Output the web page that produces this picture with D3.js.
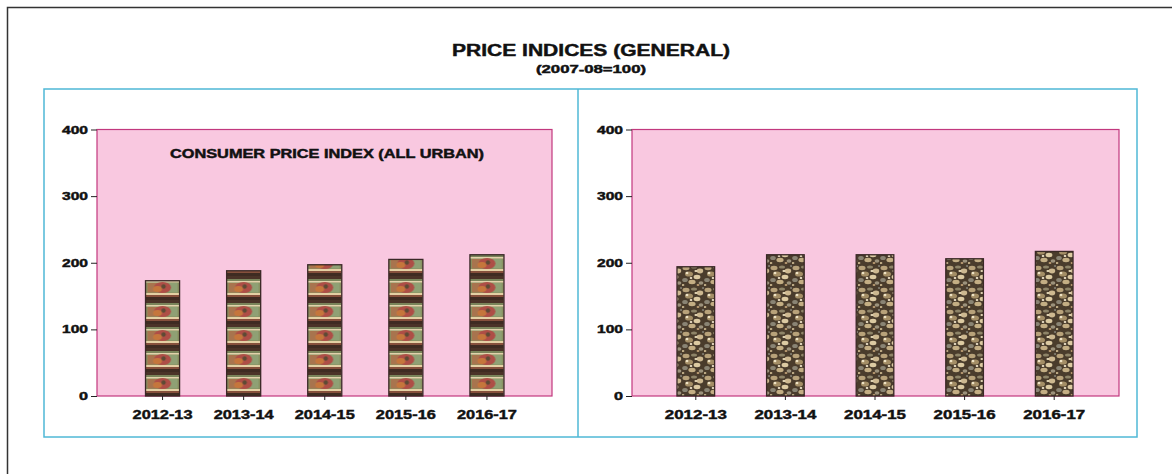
<!DOCTYPE html>
<html>
<head>
<meta charset="utf-8">
<script src="https://cdn.jsdelivr.net/npm/d3@7"></script>
<style>
  body { margin: 0; background: #fff; }
  text { font-family: "Liberation Sans", Arial, sans-serif; font-weight: bold; fill: #111;
         stroke: #111; stroke-width: 0.45px; }
</style>
</head>
<body>
<svg id="chart"></svg>
<script>
var width = 1172;
var height = 474;

// data
var years = ["2012-13", "2013-14", "2014-15", "2015-16", "2016-17"];
var cpiUrban = [173, 188, 197, 205, 212];
var rightIndex = [194, 212, 212, 206, 217];
var yTicks = [0, 100, 200, 300, 400];

var svg = d3.select('#chart')
    .attr('width', width)
    .attr('height', height);

var defs = svg.append('defs');

// outer frame (only top and left edges show)
svg.append('path')
    .attr('d', 'M7.5,' + height + 'V7.5H' + width)
    .attr('fill', 'none')
    .attr('stroke', '#333')
    .attr('stroke-width', 1.5);

svg.append('text')
    .attr('x', 591).attr('y', 56)
    .attr('text-anchor', 'middle')
    .attr('font-size', 16)
    .attr('textLength', 278).attr('lengthAdjust', 'spacingAndGlyphs')
    .text('PRICE INDICES (GENERAL)');

svg.append('text')
    .attr('x', 591).attr('y', 73)
    .attr('text-anchor', 'middle')
    .attr('font-size', 11)
    .attr('textLength', 110).attr('lengthAdjust', 'spacingAndGlyphs')
    .text('(2007-08=100)');

// panel boxes
svg.append('rect')
    .attr('x', 44).attr('y', 89)
    .attr('width', 1137 - 44).attr('height', 437 - 89)
    .attr('fill', 'none').attr('stroke', '#4FB8D6').attr('stroke-width', 1.5);
svg.append('line')
    .attr('x1', 578).attr('x2', 578).attr('y1', 89).attr('y2', 437)
    .attr('stroke', '#4FB8D6').attr('stroke-width', 1.5);

var yScale = d3.scaleLinear()
    .domain([0, 400])
    .range([396, 129.5]);

// tile pattern for the left bars
function tilePattern(id, x0, step, bw) {
    var p = defs.append('pattern')
        .attr('id', id)
        .attr('patternUnits', 'userSpaceOnUse')
        .attr('x', x0).attr('y', 396 - 24 * 12)
        .attr('width', step).attr('height', 24);
    p.append('rect').attr('width', bw).attr('height', 24).attr('fill', '#88905F');
    p.append('rect').attr('width', bw).attr('height', 3).attr('fill', '#4B3328');
    p.append('rect').attr('y', 3).attr('width', bw).attr('height', 2).attr('fill', '#7A845A');
    p.append('rect').attr('y', 5).attr('width', bw).attr('height', 1.5).attr('fill', '#E2D2AC');
    p.append('rect').attr('x', 2).attr('y', 7).attr('width', bw * 0.32).attr('height', 9.5).attr('fill', '#A8744E');
    p.append('rect').attr('x', bw * 0.68).attr('y', 7).attr('width', bw * 0.32 - 2).attr('height', 9.5).attr('fill', '#8FA074');
    p.append('ellipse').attr('cx', bw / 2).attr('cy', 11.5).attr('rx', bw * 0.25).attr('ry', 5.5).attr('fill', '#AE4E46');
    p.append('ellipse').attr('cx', bw / 2 - 5).attr('cy', 13).attr('rx', 4.5).attr('ry', 3).attr('fill', '#C5763C');
    p.append('circle').attr('cx', bw / 2 + 1).attr('cy', 10.5).attr('r', 2.2).attr('fill', '#5E4A34');
    p.append('rect').attr('y', 17).attr('width', bw).attr('height', 2).attr('fill', '#E4D0A4');
    p.append('rect').attr('y', 19).attr('width', bw).attr('height', 2).attr('fill', '#86503C');
    p.append('rect').attr('y', 21).attr('width', bw).attr('height', 3).attr('fill', '#3F2B22');
}

// mottled pattern for the right bars
function mottlePattern(id) {
    var p = defs.append('pattern')
        .attr('id', id)
        .attr('patternUnits', 'userSpaceOnUse')
        .attr('width', 22).attr('height', 22);
    p.append('rect').attr('width', 22).attr('height', 22).attr('fill', '#4A3C2C');
    var spots = [
        [4, 4, 3.5, 2.2, '#B8A27A'], [12, 3, 3, 1.6, '#8E8468'], [18, 7, 3.2, 2.4, '#CDB890'],
        [7, 10, 4, 2.6, '#A48E66'], [15, 13, 3.4, 2.2, '#DCCAA2'], [3, 16, 2.8, 2, '#8A8474'],
        [10, 18, 3.6, 2.2, '#C4AE84'], [19, 19, 2.4, 1.8, '#9C927C'], [5, 9, 1.4, 1.2, '#EEE2C4'],
        [14, 7, 1.6, 1.1, '#EBDDBC'], [16, 21, 1.4, 1, '#BE9E74'], [9, 14, 1.3, 1, '#F2E6CC'],
        [21, 2, 1.2, 1, '#7E7A6E'], [1, 21, 1.4, 1, '#C8B48C']
    ];
    spots.forEach(function(s) {
        p.append('ellipse')
            .attr('cx', s[0]).attr('cy', s[1]).attr('rx', s[2]).attr('ry', s[3]).attr('fill', s[4]);
    });
}

function drawPanel(opts) {
    var g = svg.append('g');

    var xScale = d3.scaleBand()
        .domain(years)
        .range(opts.xRange)
        .paddingInner(0.58)
        .paddingOuter(0.29);

    g.append('rect')
        .attr('x', opts.left).attr('y', yScale(400))
        .attr('width', opts.right - opts.left).attr('height', yScale(0) - yScale(400))
        .attr('fill', '#F9C8E0')
        .attr('stroke', '#C2387E').attr('stroke-width', 1.2);

    if (opts.fill === 'tile') {
        tilePattern(opts.id, xScale(years[0]), xScale.step(), xScale.bandwidth());
    } else {
        mottlePattern(opts.id);
    }

    g.selectAll('.bar')
        .data(opts.values)
        .enter()
        .append('rect')
            .attr('class', 'bar')
            .attr('x', (d, i) => xScale(years[i]))
            .attr('y', d => yScale(d))
            .attr('width', xScale.bandwidth())
            .attr('height', d => yScale(0) - yScale(d))
            .attr('fill', 'url(#' + opts.id + ')')
            .attr('stroke', '#3A2826')
            .attr('stroke-width', 1.3);

    var yAxis = d3.axisLeft(yScale)
        .tickValues(yTicks)
        .tickSize(6)
        .tickPadding(3);
    var ya = g.append('g')
        .attr('transform', 'translate(' + opts.left + ',0)')
        .call(yAxis);
    ya.select('.domain').remove();
    ya.selectAll('.tick line').attr('stroke', '#222');
    ya.selectAll('.tick text')
        .attr('font-size', 11)
        .attr('font-family', null)
        .attr('fill', '#111')
        .attr('textLength', d => d === 0 ? 9 : 26)
        .attr('lengthAdjust', 'spacingAndGlyphs');

    var xAxis = d3.axisBottom(xScale)
        .tickSize(4)
        .tickPadding(10);
    var xa = g.append('g')
        .attr('transform', 'translate(0,' + yScale(0) + ')')
        .call(xAxis);
    xa.select('.domain').remove();
    xa.selectAll('.tick line').attr('stroke', '#222');
    xa.selectAll('.tick text')
        .attr('font-size', 13)
        .attr('font-family', null)
        .attr('fill', '#111')
        .attr('textLength', opts.labelWidth)
        .attr('lengthAdjust', 'spacingAndGlyphs');

    if (opts.title) {
        g.append('text')
            .attr('x', opts.titleX).attr('y', 158)
            .attr('text-anchor', 'middle')
            .attr('font-size', 12)
            .attr('textLength', 314).attr('lengthAdjust', 'spacingAndGlyphs')
            .text(opts.title);
    }
}

drawPanel({
    id: 'tileFill', fill: 'tile',
    left: 97, right: 552, xRange: [122, 527.5],
    values: cpiUrban, labelWidth: 60,
    title: 'CONSUMER PRICE INDEX (ALL URBAN)', titleX: 327
});

drawPanel({
    id: 'mottleFill', fill: 'mottle',
    left: 632, right: 1119, xRange: [651, 1099],
    values: rightIndex, labelWidth: 62
});
</script>
</body>
</html>
